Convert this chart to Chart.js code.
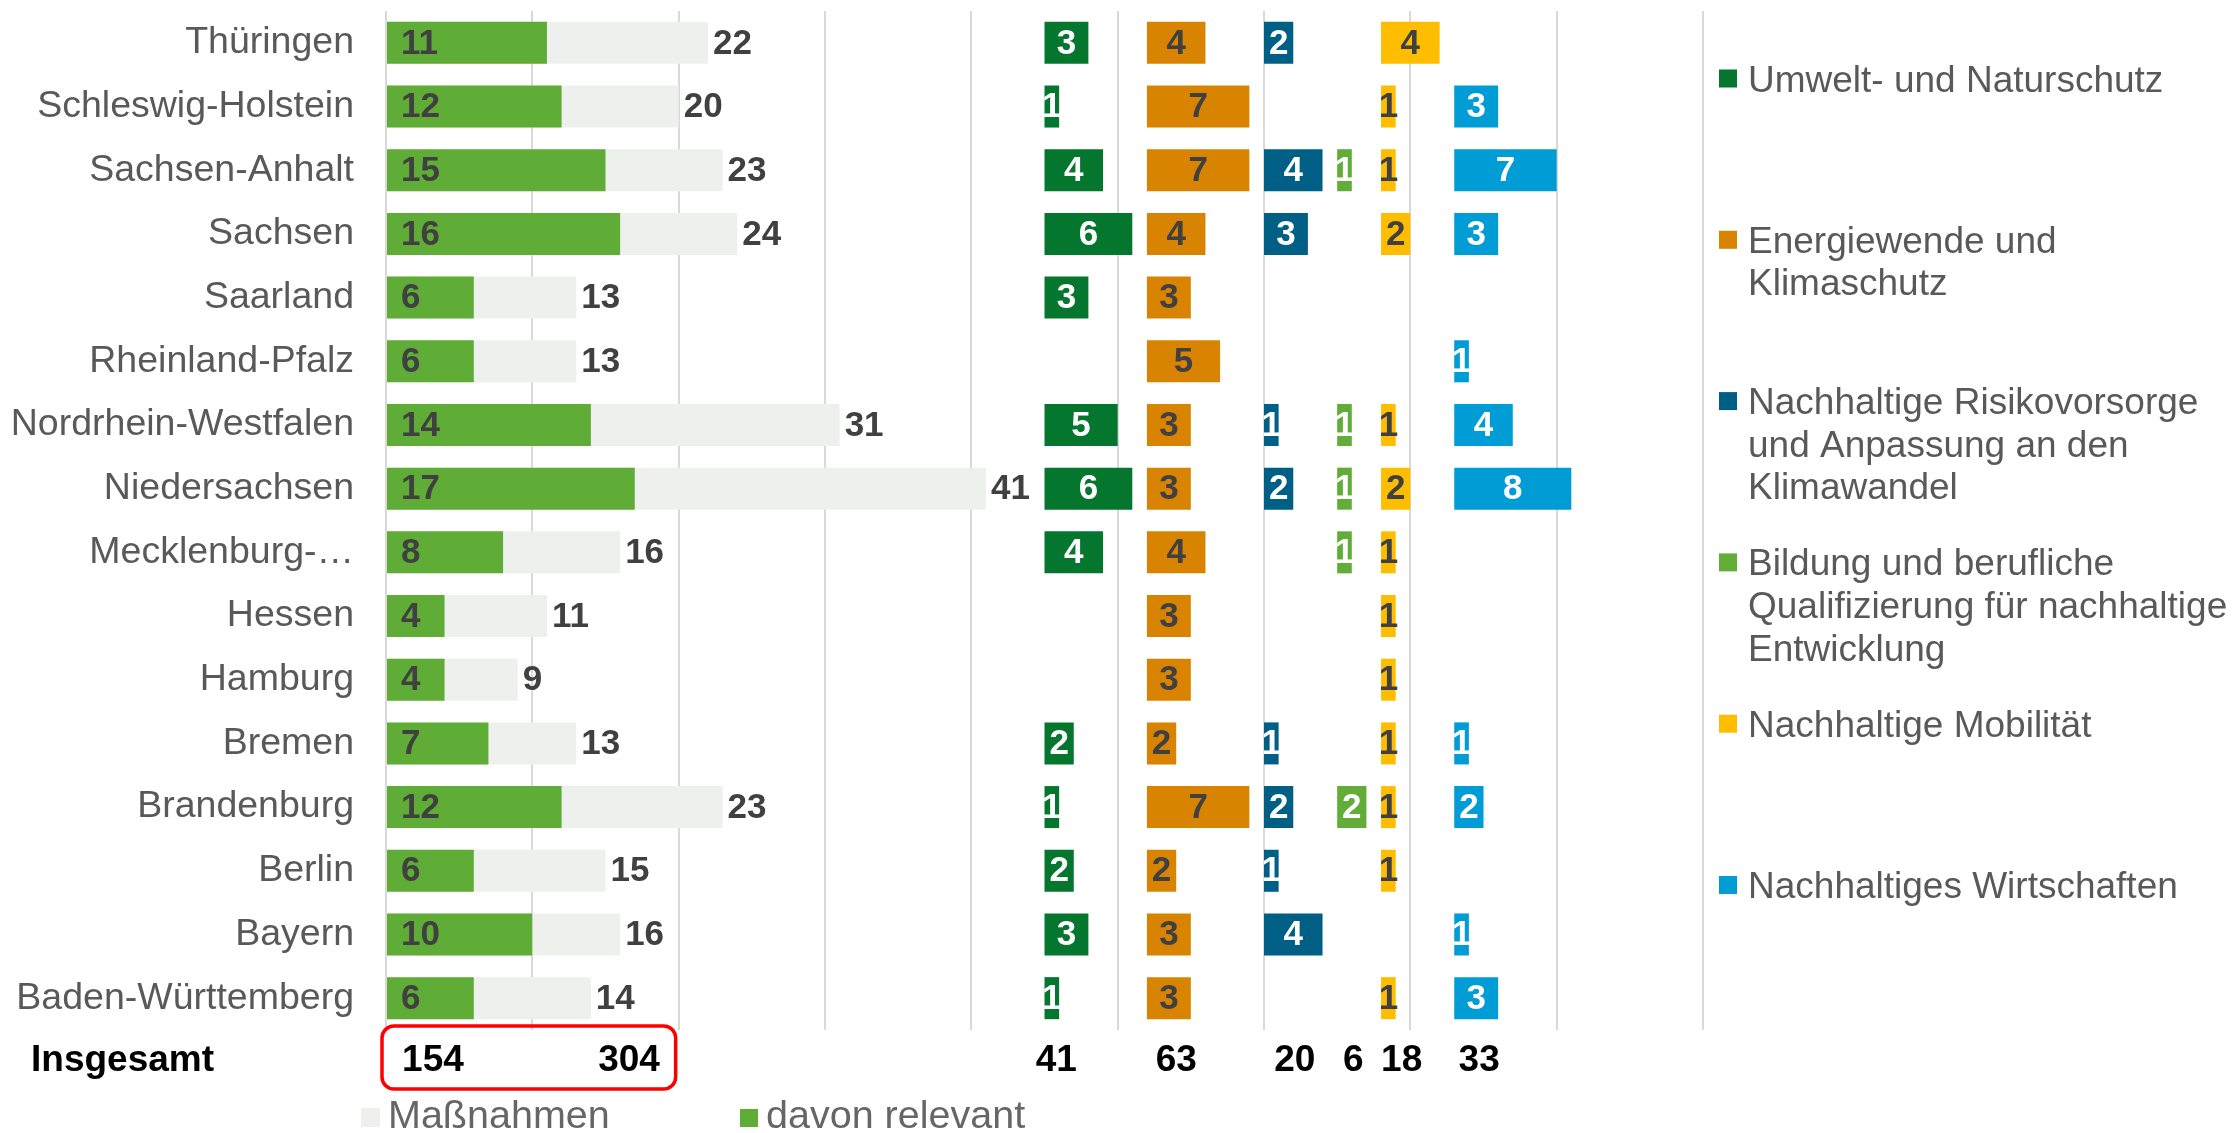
<!DOCTYPE html>
<html>
<head>
<meta charset="utf-8">
<script src="https://cdn.jsdelivr.net/npm/chart.js@4/dist/chart.umd.min.js"></script>
<style>
html,body{margin:0;padding:0;background:#ffffff;}
#wrap{width:2235px;height:1133px;position:relative;}
</style>
</head>
<body>
<div id="wrap"><canvas id="c"></canvas></div>
<script>
// ---------- data ----------
const states = ['Thüringen','Schleswig-Holstein','Sachsen-Anhalt','Sachsen','Saarland','Rheinland-Pfalz','Nordrhein-Westfalen','Niedersachsen','Mecklenburg-Vorpommern','Hessen','Hamburg','Bremen','Brandenburg','Berlin','Bayern','Baden-Württemberg'];
const massnahmen = [22,20,23,24,13,13,31,41,16,11,9,13,23,15,16,14];
const relevant   = [11,12,15,16,6,6,14,17,8,4,4,7,12,6,10,6];
const umwelt       = [3,1,4,6,3,0,5,6,4,0,0,2,1,2,3,1];
const energie      = [4,7,7,4,3,5,3,3,4,3,3,2,7,2,3,3];
const risiko       = [2,0,4,3,0,0,1,2,0,0,0,1,2,1,4,0];
const bildung      = [0,0,1,0,0,0,1,1,1,0,0,0,2,0,0,0];
const mobilitaet   = [4,1,1,2,0,0,1,2,1,1,1,1,1,1,0,1];
const wirtschaften = [0,3,7,3,0,1,4,8,0,0,0,1,2,0,1,3];
const themeNames = ['Umwelt- und Naturschutz','Energiewende und\nKlimaschutz','Nachhaltige Risikovorsorge\nund Anpassung an den\nKlimawandel','Bildung und berufliche\nQualifizierung für nachhaltige\nEntwicklung','Nachhaltige Mobilität','Nachhaltiges Wirtschaften'];
const seriesNames = ['Maßnahmen','davon relevant'];
const totalLabel = 'Insgesamt';
const xTickMin = 0, xTickMax = 90, xTickStep = 10;

// ---------- layout / style ----------
const themeValues = [umwelt, energie, risiko, bildung, mobilitaet, wirtschaften];
const themeOffsets = [45,52,60,65,68,73];
const themeColors = ['#05762D','#D88400','#005F85','#61AD37','#FFBD00','#009CD5'];
const themeLabelColors = ['#ffffff','#404040','#ffffff','#ffffff','#404040','#ffffff'];
const totalLabelPos = [44.4,52.6,60.7,65.4,68.0,73.3];
const sumLabelPos = [1.1,14.5];
const FONT = "'Liberation Sans', Arial, sans-serif";
const GRAY_BAR = '#EEF0EE';
const GREEN_BAR = '#5FAD36';

const sum = a => a.reduce((s,v)=>s+v,0);

const datasets = [
  {label: seriesNames[1], kind:'rel', vals: relevant, data: relevant.map(v=>[0,v]), backgroundColor: GREEN_BAR, order:0},
  {label: seriesNames[0], kind:'mas', vals: massnahmen, data: massnahmen.map(v=>[0,v]), backgroundColor: GRAY_BAR, order:1}
];
themeValues.forEach((vals, k) => {
  datasets.push({
    label: themeNames[k].replace(/\n/g,' '), kind:'theme', t:k, vals: vals,
    data: vals.map(v => v ? [themeOffsets[k], themeOffsets[k]+v] : null),
    backgroundColor: themeColors[k], order: 2+k
  });
});

const overlay = {
  id: 'overlay',
  afterDatasetsDraw(chart) {
    const ctx = chart.ctx;
    const xs = chart.scales.x;
    const area = chart.chartArea;
    ctx.save();
    // data labels
    ctx.font = 'bold 35px ' + FONT;
    ctx.textBaseline = 'middle';
    chart.data.datasets.forEach((ds, di) => {
      const meta = chart.getDatasetMeta(di);
      meta.data.forEach((bar, i) => {
        const v = ds.vals[i];
        if (!v) return;
        const p = bar.getProps(['x','y','base'], true);
        if (ds.kind === 'rel') {
          ctx.fillStyle = '#404040'; ctx.textAlign = 'left';
          ctx.fillText(String(v), p.base + 14, p.y + 1);
        } else if (ds.kind === 'mas') {
          ctx.fillStyle = '#404040'; ctx.textAlign = 'left';
          ctx.fillText(String(v), p.x + 5, p.y + 1);
        } else {
          ctx.fillStyle = themeLabelColors[ds.t]; ctx.textAlign = 'center';
          ctx.fillText(String(v), (p.x + p.base) / 2, p.y + 1);
        }
      });
    });
    // totals row
    const yb = area.bottom + 41;
    ctx.textBaseline = 'alphabetic';
    ctx.fillStyle = '#000000';
    ctx.font = 'bold 37px ' + FONT;
    ctx.textAlign = 'left';
    ctx.fillText(totalLabel, 31, yb);
    ctx.fillText(String(sum(relevant)), xs.getPixelForValue(sumLabelPos[0]), yb);
    ctx.fillText(String(sum(massnahmen)), xs.getPixelForValue(sumLabelPos[1]), yb);
    themeValues.forEach((vals, k) => {
      ctx.fillText(String(sum(vals)), xs.getPixelForValue(totalLabelPos[k]), yb);
    });
    // red rounded frame
    const rx = xs.getPixelForValue(0) - 4, rr = xs.getPixelForValue(20) - 3;
    const ry = area.bottom - 4, rb = area.bottom + 59;
    ctx.strokeStyle = '#FF0000'; ctx.lineWidth = 3.5;
    ctx.beginPath();
    ctx.roundRect(rx, ry, rr - rx, rb - ry, 12);
    ctx.stroke();
    // bottom legend
    ctx.font = '39.5px ' + FONT;
    ctx.fillStyle = GRAY_BAR;
    ctx.fillRect(area.left - 25, 1108, 19, 19);
    ctx.fillStyle = '#666666';
    ctx.fillText(seriesNames[0], area.left + 2, 1128);
    ctx.fillStyle = GREEN_BAR;
    ctx.fillRect(area.left + 354, 1109, 18, 18);
    ctx.fillStyle = '#666666';
    ctx.fillText(seriesNames[1], area.left + 380, 1128);
    // right legend
    ctx.font = '37px ' + FONT;
    themeNames.forEach((name, k) => {
      const base = 91.5 + 161.3 * k;
      ctx.fillStyle = themeColors[k];
      ctx.fillRect(area.right + 16, base - 22, 18, 18);
      ctx.fillStyle = '#595959';
      name.split('\n').forEach((line, j) => {
        ctx.fillText(line, area.right + 45, base + 42.6 * j);
      });
    });
    ctx.restore();
  }
};

Chart.defaults.font.family = FONT;

new Chart(document.getElementById('c'), {
  type: 'bar',
  data: { labels: states, datasets: datasets },
  options: {
    indexAxis: 'y',
    responsive: true,
    maintainAspectRatio: false,
    animation: false,
    categoryPercentage: 1,
    barPercentage: 0.66,
    layout: { padding: { top: 11, bottom: 103, right: 532, left: 0 } },
    plugins: { legend: { display: false }, tooltip: { enabled: false } },
    scales: {
      x: {
        stacked: false,
        min: xTickMin, max: xTickMax,
        ticks: { display: false, stepSize: xTickStep },
        grid: { color: '#D9D9D9', lineWidth: 2, drawTicks: false },
        border: { display: false }
      },
      y: {
        stacked: true,
        grid: { display: false, drawTicks: false },
        border: { display: false },
        ticks: {
          padding: 32,
          color: '#595959',
          font: { size: 37.5, family: FONT },
          autoSkip: false,
          callback: function(value) {
            const l = this.getLabelForValue(value);
            return l.length > 20 ? l.slice(0, 12) + '…' : l;
          }
        },
        afterFit: function(scale) {
          scale.width = 386;
          scale.paddingTop = 0;
          scale.paddingBottom = 0;
        }
      }
    }
  },
  plugins: [overlay]
});
</script>
</body>
</html>
